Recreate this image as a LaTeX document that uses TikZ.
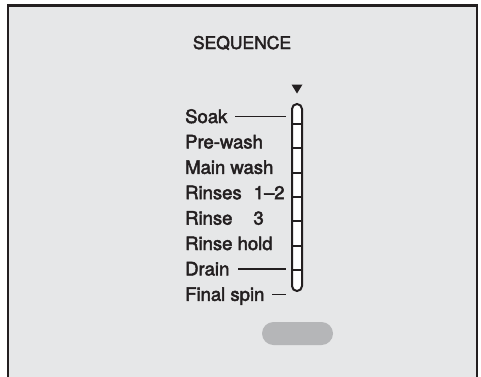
\documentclass[tikz,border=0pt]{standalone}
\usepackage{fontspec}
\setmainfont{TeX Gyre Heros}
\newfontfamily\panelfont{TeX Gyre Heros}[Ligatures=TeX, FakeBold=2.5]
\usetikzlibrary{positioning}
\definecolor{panelgray}{HTML}{E6E7E8}
\definecolor{ink}{HTML}{231F20}
\definecolor{buttongray}{HTML}{B5B6B8}
\begin{document}
\begin{tikzpicture}[x=1pt, y=1pt, line width=1.4pt, draw=ink, text=ink,
    step label/.style={anchor=base west, inner sep=0pt, text height=13pt, text depth=0pt, font=\panelfont\fontsize{18.5}{22}\selectfont}]
    \useasboundingbox (0,0) rectangle (481,376);
    % Panel
    \fill[panelgray] (8,-2) rectangle (477,370.5);
    \draw[line width=2pt] (8,-2) |- (477,370.5) -- (477,-2);

    % Nodes
    \node (title) [anchor=base, inner sep=0pt, font=\panelfont\fontsize{17.5}{21}\selectfont] at (242,327) {SEQUENCE};
    \node (soak) [step label] at (184.5,253) {Soak};
    \node (prewash) [step label, below=11pt of soak.south west, anchor=north west] {Pre-wash};
    \node (mainwash) [step label, below=11pt of prewash.south west, anchor=north west] {Main wash};
    \node (rinses) [step label, below=11pt of mainwash.south west, anchor=north west] {Rinses\hspace{12pt}1--2};
    \node (rinse) [step label, below=11pt of rinses.south west, anchor=north west] {Rinse\hspace{21pt}3};
    \node (rinsehold) [step label, below=11pt of rinse.south west, anchor=north west] {Rinse hold};
    \node (drain) [step label, below=11pt of rinsehold.south west, anchor=north west] {Drain};
    \node (finalspin) [step label, below=11pt of drain.south west, anchor=north west] {Final spin};
    \node (tube) [draw, fill=white, line width=2pt, outer sep=0pt, rounded corners=5pt, inner sep=0pt, minimum width=10pt, minimum height=187pt] at (297,178.5) {};
    \node (button) [fill=buttongray, rounded corners=11.5pt, minimum width=71pt, minimum height=23pt] at (297.5,42.5) {};

    % Marker and dividers
    \fill[ink] ([yshift=10.5pt]tube.north) -- ++(-5.5,9) -- ++(11,0) -- cycle;
    \draw[line width=1.8pt] ([yshift=-20pt]tube.north west) -- ([yshift=-20pt]tube.north east);
    \draw[line width=1.8pt] ([yshift=-44.33pt]tube.north west) -- ([yshift=-44.33pt]tube.north east);
    \draw[line width=1.8pt] ([yshift=-68.67pt]tube.north west) -- ([yshift=-68.67pt]tube.north east);
    \draw[line width=1.8pt] ([yshift=-93pt]tube.north west) -- ([yshift=-93pt]tube.north east);
    \draw[line width=1.8pt] ([yshift=-117.33pt]tube.north west) -- ([yshift=-117.33pt]tube.north east);
    \draw[line width=1.8pt] ([yshift=-141.67pt]tube.north west) -- ([yshift=-141.67pt]tube.north east);
    \draw[line width=1.8pt] ([yshift=-166pt]tube.north west) -- ([yshift=-166pt]tube.north east);

    % Leaders
    \draw ([xshift=7pt]soak.east) -- ([xshift=-6pt]soak.east -| tube.west);
    \draw ([xshift=8pt]drain.east) -- ([xshift=-6pt]drain.east -| tube.west);
    \draw ([xshift=7pt]finalspin.east) -- ([xshift=-6pt]finalspin.east -| tube.west);
\end{tikzpicture}
\end{document}
